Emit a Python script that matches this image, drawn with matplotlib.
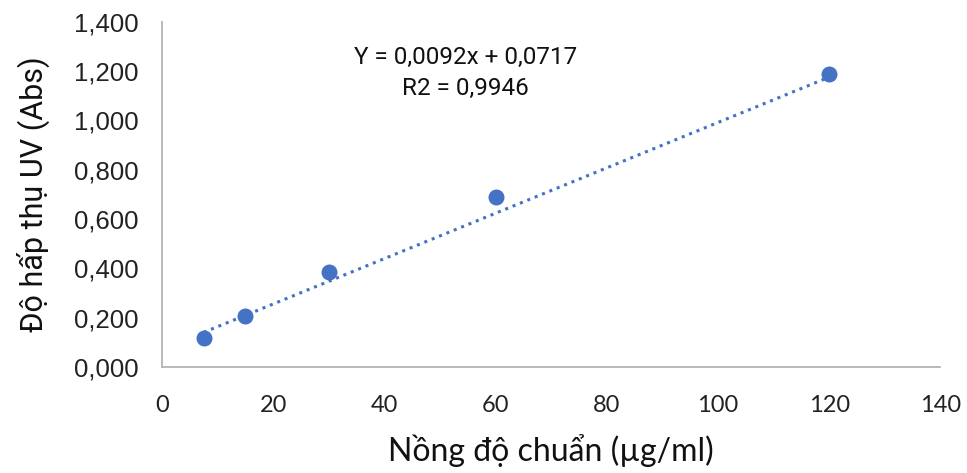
import numpy as np
import matplotlib
matplotlib.use("Agg")
import matplotlib.pyplot as plt
from matplotlib.ticker import FuncFormatter

# chuẩn đường hấp thụ
conc = [7.5, 15, 30, 60, 120]
absorb = [0.118, 0.208, 0.385, 0.690, 1.190]
slope, intercept = 0.0092, 0.0717
x_ticks = [0, 20, 40, 60, 80, 100, 120, 140]
y_ticks = [0, 0.2, 0.4, 0.6, 0.8, 1.0, 1.2, 1.4]

blue = "#4472C4"

fig = plt.figure(figsize=(9.67, 4.73), dpi=100)
ax = fig.add_axes([0.1675, 0.224, 0.805, 0.73])

xs = np.array([conc[0], conc[-1]])
ax.plot(xs, slope * xs + intercept, linestyle=(0, (1, 1.6)), color=blue, lw=2.2)
ax.plot(conc, absorb, "o", color=blue, markersize=10.5, zorder=3)

ax.set_xlim(0, 140)
ax.set_ylim(0, 1.4)
ax.set_xticks(x_ticks)
ax.set_yticks(y_ticks)
ax.yaxis.set_major_formatter(FuncFormatter(lambda v, p: f"{v:.3f}".replace(".", ",")))

for s in ["top", "right"]:
    ax.spines[s].set_visible(False)
for s in ["left", "bottom"]:
    ax.spines[s].set_color("#b4b4b4")
    ax.spines[s].set_linewidth(1.3)

ax.tick_params(axis="both", length=0)
ax.tick_params(axis="y", pad=17, labelsize=18.5, labelcolor="#222222")
ax.tick_params(axis="x", pad=20, labelsize=17, labelcolor="#222222")
for lab in ax.get_yticklabels():
    lab.set_family("Liberation Sans")
for lab in ax.get_xticklabels():
    lab.set_family("Lato")

ax.set_ylabel("Độ hấp thụ UV (Abs)", fontsize=22, family="Roboto", color="#111111", labelpad=17)
ax.set_xlabel("Nồng độ chuẩn (µg/ml)", fontsize=23, family="Lato", color="#111111", labelpad=13)

ax.text(0.39, 0.852, "Y = 0,0092x + 0,0717\nR2 = 0,9946", transform=ax.transAxes,
        ha="center", va="center", fontsize=17.5, family="Roboto", color="#111111",
        linespacing=1.45)

fig.savefig("out.png", dpi=100)
